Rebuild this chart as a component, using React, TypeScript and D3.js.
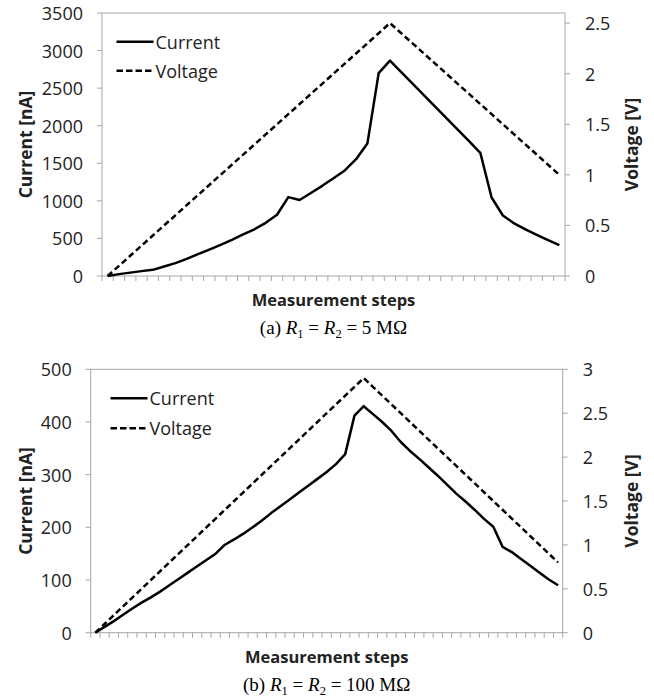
import * as d3 from "d3";

// (a) R1 = R2 = 5 MOhm
const currentA = [
  0, 25, 45, 65, 82, 126, 172, 228, 290, 351, 413, 480, 553, 622, 708, 815,
  1050, 1012, 1105, 1200, 1300, 1405, 1555, 1762, 2700, 2866, 2713, 2560, 2407,
  2253, 2100, 1947, 1794, 1640, 1045, 805, 700, 620, 546, 478, 410,
];
const voltageA = [
  0, 0.1, 0.2, 0.3, 0.4, 0.5, 0.6, 0.7, 0.8, 0.9, 1.0, 1.1, 1.2, 1.3, 1.4, 1.5,
  1.6, 1.7, 1.8, 1.9, 2.0, 2.1, 2.2, 2.3, 2.4, 2.5, 2.4, 2.3, 2.2, 2.1, 2.0, 1.9,
  1.8, 1.7, 1.6, 1.5, 1.4, 1.3, 1.2, 1.1, 1.0,
];
const leftTicksA = [0, 500, 1000, 1500, 2000, 2500, 3000, 3500];
const rightTicksA = [0, 0.5, 1, 1.5, 2, 2.5];

// (b) R1 = R2 = 100 MOhm
const currentB = [
  0, 11, 22, 34, 46, 57, 67, 78, 90, 102, 114, 126, 138, 150, 167, 177, 188,
  200, 213, 227, 240, 253, 266, 279, 292, 305, 320, 339, 412, 430, 415, 400, 383,
  362, 345, 330, 314, 298, 281, 264, 249, 233, 216, 201, 163, 153, 140, 127, 114,
  101, 90,
];
const voltageB = [
  0, 0.1, 0.2, 0.3, 0.4, 0.5, 0.6, 0.7, 0.8, 0.9, 1.0, 1.1, 1.2, 1.3, 1.4, 1.5,
  1.6, 1.7, 1.8, 1.9, 2.0, 2.1, 2.2, 2.3, 2.4, 2.5, 2.6, 2.7, 2.8, 2.9, 2.8, 2.7,
  2.6, 2.5, 2.4, 2.3, 2.2, 2.1, 2.0, 1.9, 1.8, 1.7, 1.6, 1.5, 1.4, 1.3, 1.2, 1.1,
  1.0, 0.9, 0.8,
];
const leftTicksB = [0, 100, 200, 300, 400, 500];
const rightTicksB = [0, 0.5, 1, 1.5, 2, 2.5, 3];

const sans = "'Open Sans', sans-serif";
const serif = "'Liberation Serif', 'Times New Roman', serif";
const axisGray = "#a6a6a6";
const textColor = "#222";

type Box = { left: number; right: number; top: number; bottom: number };

type PanelProps = {
  current: number[];
  voltage: number[];
  leftTicks: number[];
  rightTicks: number[];
  leftMax: number;
  rightMax: number;
  box: Box;
  legend: { x: number; y1: number; y2: number };
  letter: string;
  ohms: string;
  titleY: number;
  captionY: number;
};

const Panel = ({
  current,
  voltage,
  leftTicks,
  rightTicks,
  leftMax,
  rightMax,
  box,
  legend,
  letter,
  ohms,
  titleY,
  captionY,
}: PanelProps) => {
  const steps = current.map((_, i) => i);
  const x = d3
    .scaleBand<number>()
    .domain(steps)
    .range([box.left, box.right])
    .padding(0);
  const cx = (i: number) => (x(i) as number) + x.bandwidth() / 2;
  const yL = d3.scaleLinear().domain([0, leftMax]).range([box.bottom, box.top]);
  const yR = d3
    .scaleLinear()
    .domain([0, rightMax])
    .range([box.bottom, box.top]);

  const currentLine = d3
    .line<number>()
    .x((_, i) => cx(i))
    .y((d) => yL(d));
  const voltageLine = d3
    .line<number>()
    .x((_, i) => cx(i))
    .y((d) => yR(d));

  // tick marks sit on category boundaries
  const xTicks = [...steps.map((i) => x(i) as number), box.right];
  const midX = (box.left + box.right) / 2;
  const midY = (box.top + box.bottom) / 2;

  return (
    <g>
      {/* plot frame */}
      <rect
        x={box.left}
        y={box.top}
        width={box.right - box.left}
        height={box.bottom - box.top}
        fill="none"
        stroke={axisGray}
        strokeWidth={1}
      />

      {/* left axis */}
      {leftTicks.map((t) => (
        <g key={"l" + t}>
          <line
            x1={box.left - 5}
            x2={box.left}
            y1={yL(t)}
            y2={yL(t)}
            stroke={axisGray}
          />
          <text
            x={box.left - 19}
            y={yL(t)}
            textAnchor="end"
            dominantBaseline="central"
            fontFamily={sans}
            fontSize={18}
            fill={textColor}
          >
            {t}
          </text>
        </g>
      ))}

      {/* right axis */}
      {rightTicks.map((t) => (
        <g key={"r" + t}>
          <line
            x1={box.right}
            x2={box.right + 5}
            y1={yR(t)}
            y2={yR(t)}
            stroke={axisGray}
          />
          <text
            x={box.right + 20}
            y={yR(t)}
            textAnchor="start"
            dominantBaseline="central"
            fontFamily={sans}
            fontSize={18}
            fill={textColor}
          >
            {t}
          </text>
        </g>
      ))}

      {/* x axis ticks */}
      {xTicks.map((tx, i) => (
        <line
          key={"x" + i}
          x1={tx}
          x2={tx}
          y1={box.bottom}
          y2={box.bottom + 5}
          stroke={axisGray}
        />
      ))}

      {/* series */}
      <path
        d={voltageLine(voltage) ?? ""}
        fill="none"
        stroke="#000"
        strokeWidth={2.5}
        strokeDasharray="6,3.5"
      />
      <path
        d={currentLine(current) ?? ""}
        fill="none"
        stroke="#000"
        strokeWidth={2.5}
        strokeLinejoin="round"
      />

      {/* legend */}
      <line
        x1={legend.x}
        x2={legend.x + 37}
        y1={legend.y1}
        y2={legend.y1}
        stroke="#000"
        strokeWidth={2.5}
      />
      <text
        x={legend.x + 39}
        y={legend.y1}
        dominantBaseline="central"
        fontFamily={sans}
        fontSize={18}
        fill={textColor}
      >
        Current
      </text>
      <line
        x1={legend.x}
        x2={legend.x + 37}
        y1={legend.y2}
        y2={legend.y2}
        stroke="#000"
        strokeWidth={2.5}
        strokeDasharray="6.5,3"
      />
      <text
        x={legend.x + 39}
        y={legend.y2}
        dominantBaseline="central"
        fontFamily={sans}
        fontSize={18}
        fill={textColor}
      >
        Voltage
      </text>

      {/* axis titles */}
      <text
        transform={`translate(25,${midY}) rotate(-90)`}
        textAnchor="middle"
        dominantBaseline="central"
        fontFamily={sans}
        fontWeight="bold"
        fontSize={17.5}
        fill={textColor}
      >
        Current [nA]
      </text>
      <text
        transform={`translate(631,${midY}) rotate(-90)`}
        textAnchor="middle"
        dominantBaseline="central"
        fontFamily={sans}
        fontWeight="bold"
        fontSize={17.5}
        fill={textColor}
      >
        Voltage [V]
      </text>
      <text
        x={midX}
        y={titleY}
        textAnchor="middle"
        fontFamily={sans}
        fontWeight="bold"
        fontSize={16.5}
        fill={textColor}
      >
        Measurement steps
      </text>

      {/* caption */}
      <text
        x={midX}
        y={captionY}
        textAnchor="middle"
        fontFamily={serif}
        fontSize={19}
        fill="#000"
      >
        ({letter}) <tspan fontStyle="italic">R</tspan>
        <tspan fontSize={12.5} dy={4}>
          1
        </tspan>
        <tspan dy={-4}> = </tspan>
        <tspan fontStyle="italic">R</tspan>
        <tspan fontSize={12.5} dy={4}>
          2
        </tspan>
        <tspan dy={-4}> = {ohms} MΩ</tspan>
      </text>
    </g>
  );
};

export default function App() {
  return (
    <svg
      width={654}
      height={700}
      style={{ position: "absolute", left: 0, top: 0, background: "#fff" }}
    >
      <rect width={654} height={700} fill="#fff" />
      <Panel
        current={currentA}
        voltage={voltageA}
        leftTicks={leftTicksA}
        rightTicks={rightTicksA}
        leftMax={3500}
        rightMax={2.6}
        box={{ left: 102, right: 565, top: 13, bottom: 276 }}
        legend={{ x: 116.5, y1: 41.7, y2: 70.7 }}
        letter="a"
        ohms="5"
        titleY={306}
        captionY={334}
      />
      <Panel
        current={currentB}
        voltage={voltageB}
        leftTicks={leftTicksB}
        rightTicks={rightTicksB}
        leftMax={500}
        rightMax={3}
        box={{ left: 90.7, right: 562.7, top: 369.3, bottom: 632.7 }}
        legend={{ x: 110.5, y1: 398.3, y2: 428.3 }}
        letter="b"
        ohms="100"
        titleY={663}
        captionY={691}
      />
    </svg>
  );
}
